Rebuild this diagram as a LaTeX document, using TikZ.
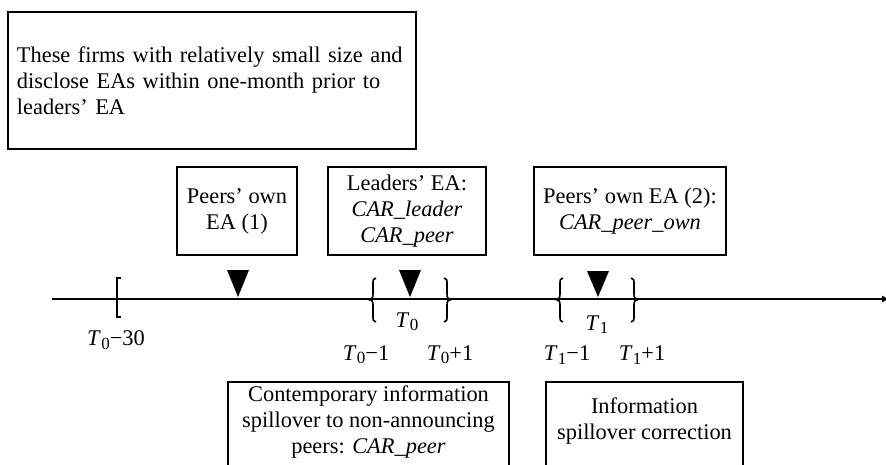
\documentclass[tikz,border=0pt]{standalone}
\usepackage{fontspec}
\setmainfont{Liberation Serif}
\usetikzlibrary{arrows.meta}
\newcommand{\Tn}[1]{\textit{T}\kern0.3pt\raisebox{-0.32ex}{\fontsize{17}{17}\selectfont #1}}
\newcommand{\leftbr}[1]{\draw[brace] ({#1+3},278) .. controls ({#1},278) and ({#1},280) .. ({#1},285) -- ({#1},294) .. controls ({#1},298) and ({#1-1},299) .. ({#1-4},299.5) .. controls ({#1-1},300) and ({#1},301) .. ({#1},305) -- ({#1},315) .. controls ({#1},320) and ({#1},322) .. ({#1+3},322);}
\newcommand{\rightbr}[1]{\draw[brace] ({#1-3},278) .. controls ({#1},278) and ({#1},280) .. ({#1},285) -- ({#1},294) .. controls ({#1},298) and ({#1+1},299) .. ({#1+4},299.5) .. controls ({#1+1},300) and ({#1},301) .. ({#1},305) -- ({#1},315) .. controls ({#1},320) and ({#1},322) .. ({#1-3},322);}
\begin{document}
\begin{tikzpicture}[x=1pt,y=-1pt,
  box/.style={draw, line width=1.9pt, inner sep=0pt, align=center, font=\fontsize{22.4}{26}\selectfont},
  lbl/.style={inner sep=0pt, font=\fontsize{22.4}{26}\selectfont},
  axis/.style={line width=1.8pt},
  brace/.style={line width=1.6pt},
  marker/.style={fill=black},
  ]
\useasboundingbox (0,0) rectangle (886,464);

% top explanatory box
\node[box, anchor=north west, minimum width=408, minimum height=137, text width=390, inner xsep=9pt, align=left] (firms) at (7,11)
  {These firms with relatively small size and\\disclose EAs within one-month prior to\\leaders’ EA};

% event boxes
\node[box, minimum width=120, minimum height=88] (ea1) at (237,211) {Peers’ own\\EA (1)};
\node[box, minimum width=158, minimum height=88] (lead) at (407,211) {Leaders’ EA:\\\textit{CAR\_leader}\\\textit{CAR\_peer}};
\node[box, minimum width=192, minimum height=88] (ea2) at (630,211) {Peers’ own EA (2):\\\textit{CAR\_peer\_own}};

% timeline
\coordinate (tl0) at (52,299);
\coordinate (tl1) at (890,299);
\draw[axis, -{Latex[length=8pt,width=7pt]}] (tl0) -- (tl1);

% markers
\fill[marker] (227,270) -- (249,270) -- (238,297) -- cycle;
\fill[marker] (399,270) -- (421,270) -- (410,297) -- cycle;
\fill[marker] (587,271) -- (609,271) -- (598,297) -- cycle;

% bracket at T0-30
\draw[brace] (121,278) -- (117,278) -- (117,317) -- (121,317);
% braces
\leftbr{373}
\rightbr{447}
\leftbr{560}
\rightbr{634}

% labels
\node[lbl] (l30) at (116,340) {\Tn{0}−30};
\node[lbl] (lt0) at (407,322) {\Tn{0}};
\node[lbl] (lt1) at (597,325) {\Tn{1}};
\node[lbl] (lt0m) at (366,355) {\Tn{0}−1};
\node[lbl] (lt0p) at (450,355) {\Tn{0}+1};
\node[lbl] (lt1m) at (567,355) {\Tn{1}−1};
\node[lbl] (lt1p) at (642,355) {\Tn{1}+1};

% bottom boxes (cut by the lower edge)
\node[box, anchor=north, minimum width=281, minimum height=100] (contempbox) at (368.5,381) {};
\node[lbl, align=center, anchor=north] (contemp) at (368.5,386) {Contemporary information\\spillover to non-announcing\\peers: \textit{CAR\_peer}};
\node[box, anchor=north, minimum width=197, minimum height=100] (corrbox) at (644.5,381) {};
\node[lbl, align=center, anchor=north] (corr) at (644.5,398) {Information\\spillover correction};
\end{tikzpicture}
\end{document}
